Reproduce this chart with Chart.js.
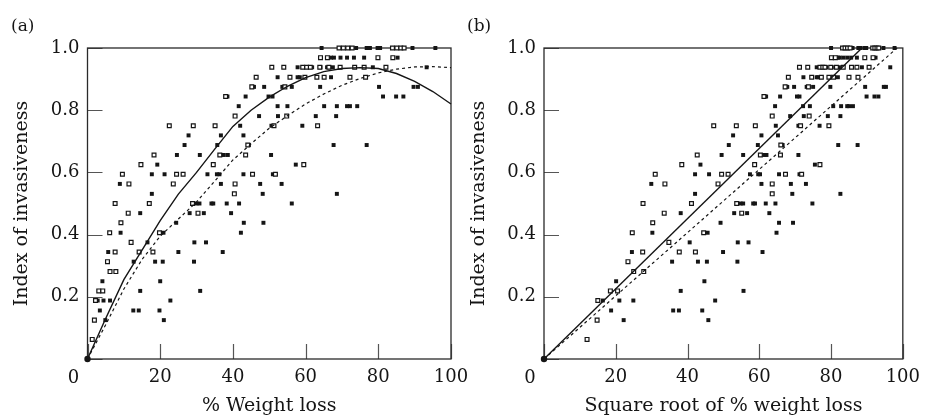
<!DOCTYPE html>
<html>
<head>
<meta charset="utf-8">
<script src="https://cdn.jsdelivr.net/npm/chart.js@4.4.1/dist/chart.umd.min.js"></script>
<style>
  body { margin: 0; background: #fff; }
  #wrap { position: relative; width: 928px; height: 417px; overflow: hidden; }
  .panel { position: absolute; top: 0; height: 417px; }
  .tag { position: absolute; top: 17px; font: 17px/17px "DejaVu Serif", serif; color: #151515; }
</style>
</head>
<body>
<div id="wrap">
  <div class="panel" style="left:0;width:480px"><canvas id="chartA"></canvas></div>
  <div class="panel" style="left:464px;width:464px"><canvas id="chartB"></canvas></div>
  <div class="tag" style="left:11px">(a)</div>
  <div class="tag" style="left:467px">(b)</div>
</div>
<script>
// index of invasiveness vs % weight loss, panel (a)
// open squares / filled squares, [x, y]
const weightLossOpen = [
  [69.2,1],[70.4,1],[71.6,1],[72.8,1],[83.9,1],[85.1,1],[86.2,1],[87.1,1],
  [64.1,0.969],[66.0,0.969],[79.9,0.969],[84.0,0.969],
  [50.7,0.938],[54.0,0.938],[59.2,0.938],[60.3,0.938],[61.3,0.938],[63.9,0.938],[66.4,0.938],[69.5,0.938],[73.5,0.938],[76.1,0.938],[82.1,0.938],
  [46.4,0.906],[55.7,0.906],[59.8,0.906],[63.1,0.906],[65.1,0.906],[72.2,0.906],[76.5,0.906],
  [45.2,0.875],[54.3,0.875],
  [38.0,0.844],
  [40.6,0.781],[54.8,0.781],
  [22.5,0.75],[29.1,0.75],[35.1,0.75],[51.3,0.75],[63.3,0.75],
  [44.1,0.688],
  [18.3,0.656],[36.4,0.656],[43.5,0.656],
  [14.7,0.625],[34.6,0.625],[59.5,0.625],
  [9.6,0.594],[24.5,0.594],[26.3,0.594],[45.4,0.594],[51.7,0.594],
  [11.4,0.563],[23.6,0.563],[40.6,0.563],
  [40.4,0.531],
  [7.6,0.5],[17.0,0.5],[28.9,0.5],
  [11.2,0.469],[30.4,0.469],
  [9.2,0.438],
  [6.1,0.406],[19.8,0.406],
  [12.0,0.375],
  [7.6,0.344],[14.2,0.344],[18.0,0.344],
  [5.5,0.313],
  [6.2,0.281],[7.8,0.281],
  [3.1,0.219],[4.2,0.219],
  [2.2,0.188],
  [1.9,0.125],
  [1.3,0.063]
];
const weightLossFilled = [
  [64.4,1],[73.9,1],[76.8,1],[77.7,1],[79.8,1],[80.5,1],[89.4,1],[95.7,1],
  [67.0,0.969],[67.8,0.969],[69.6,0.969],[71.4,0.969],[73.3,0.969],[76.1,0.969],[85.3,0.969],
  [57.8,0.938],[61.8,0.938],[64.1,0.938],[65.9,0.938],[67.5,0.938],[78.5,0.938],[93.3,0.938],
  [52.3,0.906],[57.8,0.906],[58.4,0.906],[67.0,0.906],
  [45.8,0.875],[48.6,0.875],[53.6,0.875],[56.2,0.875],[64.0,0.875],[80.2,0.875],[89.7,0.875],[90.9,0.875],
  [38.5,0.844],[43.5,0.844],[49.8,0.844],[50.9,0.844],[81.3,0.844],[84.9,0.844],[86.9,0.844],
  [41.6,0.813],[52.3,0.813],[55.0,0.813],[65.1,0.813],[68.6,0.813],[71.4,0.813],[72.2,0.813],[74.2,0.813],
  [47.2,0.781],[52.4,0.781],[62.8,0.781],[68.4,0.781],
  [42.0,0.75],[50.6,0.75],[59.1,0.75],
  [27.8,0.719],[36.7,0.719],[42.9,0.719],
  [26.7,0.688],[35.7,0.688],[44.4,0.688],[67.7,0.688],[76.8,0.688],
  [24.6,0.656],[30.9,0.656],[37.5,0.656],[38.6,0.656],[50.5,0.656],
  [19.2,0.625],[57.3,0.625],
  [17.7,0.594],[21.2,0.594],[33.0,0.594],[35.6,0.594],[36.3,0.594],[42.9,0.594],[51.0,0.594],
  [8.9,0.563],[36.7,0.563],[47.5,0.563],[53.4,0.563],
  [17.7,0.531],[48.2,0.531],[68.6,0.531],
  [30.0,0.5],[30.8,0.5],[34.1,0.5],[34.6,0.5],[38.3,0.5],[41.7,0.5],[56.2,0.5],
  [14.5,0.469],[28.1,0.469],[32.0,0.469],[39.5,0.469],
  [24.4,0.438],[43.0,0.438],[48.4,0.438],
  [9.1,0.406],[20.9,0.406],[42.2,0.406],
  [16.5,0.375],[29.4,0.375],[32.6,0.375],
  [5.7,0.344],[25.0,0.344],[37.2,0.344],
  [12.7,0.313],[18.6,0.313],[20.7,0.313],[29.3,0.313],
  [4.1,0.25],[20.0,0.25],
  [14.5,0.219],[31.0,0.219],
  [2.8,0.188],[4.4,0.188],[6.2,0.188],[22.8,0.188],
  [3.4,0.156],[12.6,0.156],[14.1,0.156],[19.8,0.156],
  [4.9,0.125],[21.0,0.125]
];
// fitted curves of panel (a), read every 5 %
const curveX = [0,5,10,15,20,25,30,35,40,45,50,55,60,65,70,75,80,85,90,95,100];
const curveSolid = [0,0.13,0.255,0.35,0.445,0.53,0.6,0.675,0.748,0.8,0.842,0.877,0.905,0.924,0.934,0.937,0.934,0.918,0.893,0.86,0.82];
const curveDashed = [0,0.11,0.225,0.32,0.395,0.45,0.505,0.572,0.64,0.692,0.742,0.782,0.82,0.852,0.88,0.902,0.92,0.932,0.939,0.94,0.937];

// panel (b): square root of % weight loss
const sqrtOpen = [
  [83.2,1],[83.9,1],[84.6,1],[85.3,1],[91.6,1],[92.2,1],[92.8,1],[93.3,1],
  [80.1,0.969],[81.2,0.969],[89.4,0.969],[91.7,0.969],
  [71.2,0.938],[73.5,0.938],[76.9,0.938],[77.7,0.938],[78.3,0.938],[79.9,0.938],[81.5,0.938],[83.4,0.938],[85.7,0.938],[87.2,0.938],[90.6,0.938],
  [68.1,0.906],[74.6,0.906],[77.3,0.906],[79.4,0.906],[80.7,0.906],[85.0,0.906],[87.5,0.906],
  [67.2,0.875],[73.7,0.875],
  [61.3,0.844],
  [63.6,0.781],[73.9,0.781],
  [47.3,0.75],[53.6,0.75],[58.9,0.75],[71.5,0.75],[79.4,0.75],
  [66.0,0.688],
  [42.7,0.656],[60.3,0.656],[65.9,0.656],
  [38.4,0.625],[58.7,0.625],[76.9,0.625],
  [31.0,0.594],[49.5,0.594],[51.3,0.594],[67.3,0.594],[71.8,0.594],
  [33.7,0.563],[48.5,0.563],[63.6,0.563],
  [63.6,0.531],
  [27.6,0.5],[41.1,0.5],[53.7,0.5],
  [33.5,0.469],[55.1,0.469],
  [30.3,0.438],
  [24.6,0.406],[44.5,0.406],
  [34.8,0.375],
  [27.5,0.344],[37.7,0.344],[42.2,0.344],
  [23.4,0.313],
  [25.0,0.281],[27.8,0.281],
  [18.5,0.219],[20.5,0.219],
  [15.0,0.188],
  [14.8,0.125],
  [12.0,0.063]
];
const sqrtFilled = [
  [80.0,1],[86.0,1],[87.6,1],[88.2,1],[89.3,1],[89.8,1],[94.6,1],[97.7,1],
  [81.9,0.969],[82.4,0.969],[83.4,0.969],[84.5,0.969],[85.6,0.969],[87.2,0.969],[92.4,0.969],
  [76.0,0.938],[78.6,0.938],[80.1,0.938],[81.2,0.938],[82.2,0.938],[88.6,0.938],[96.5,0.938],
  [72.3,0.906],[76.0,0.906],[76.4,0.906],[81.9,0.906],
  [67.8,0.875],[69.7,0.875],[73.2,0.875],[75.0,0.875],[79.8,0.875],[89.5,0.875],[94.7,0.875],[95.3,0.875],
  [61.9,0.844],[65.8,0.844],[70.5,0.844],[71.2,0.844],[89.9,0.844],[92.1,0.844],[93.2,0.844],
  [64.4,0.813],[72.2,0.813],[74.1,0.813],[80.6,0.813],[82.8,0.813],[84.5,0.813],[85.0,0.813],[86.1,0.813],
  [68.6,0.781],[72.4,0.781],[79.1,0.781],[82.6,0.781],
  [64.6,0.75],[70.9,0.75],[76.8,0.75],
  [52.7,0.719],[60.6,0.719],[65.2,0.719],
  [51.5,0.688],[59.6,0.688],[66.5,0.688],[82.0,0.688],[87.4,0.688],
  [49.5,0.656],[55.5,0.656],[61.2,0.656],[62.0,0.656],[70.9,0.656],
  [43.6,0.625],[75.5,0.625],
  [42.1,0.594],[46.0,0.594],[57.4,0.594],[59.7,0.594],[60.2,0.594],[65.5,0.594],[71.2,0.594],
  [29.9,0.563],[60.6,0.563],[68.8,0.563],[73.0,0.563],
  [42.1,0.531],[69.2,0.531],[82.6,0.531],
  [54.8,0.5],[55.5,0.5],[58.3,0.5],[58.8,0.5],[61.8,0.5],[64.5,0.5],[74.8,0.5],
  [38.1,0.469],[53.0,0.469],[56.6,0.469],[62.8,0.469],
  [49.2,0.438],[65.5,0.438],[69.4,0.438],
  [30.2,0.406],[45.6,0.406],[64.8,0.406],
  [40.6,0.375],[54.0,0.375],[57.0,0.375],
  [24.5,0.344],[49.9,0.344],[60.9,0.344],
  [35.7,0.313],[42.9,0.313],[45.4,0.313],[53.9,0.313],
  [20.1,0.25],[44.7,0.25],
  [38.1,0.219],[55.6,0.219],
  [16.4,0.188],[21.0,0.188],[24.9,0.188],[47.7,0.188],
  [18.7,0.156],[36.0,0.156],[37.6,0.156],[44.1,0.156],
  [22.2,0.125],[45.8,0.125]
];
// straight fits of panel (b), end points
const lineX = [0, 88.6];
const lineY = [0, 1];
const dashX = [0, 98.4];
const dashY = [0, 1];
const origin = [[0, 0]];

const xTicks = [0, 20, 40, 60, 80, 100];
const yTicks = [0, 0.2, 0.4, 0.6, 0.8, 1.0];

const ink = '#151515';
const serif = "'DejaVu Serif', serif";

const toPts = pairs => pairs.map(p => ({x: p[0], y: p[1]}));
const zipPts = (xs, ys) => xs.map((x, i) => ({x: x, y: ys[i]}));

// inward ticks, box frame and the shared "0" at the origin
const framePlugin = {
  id: 'frame',
  beforeDatasetsDraw(chart) {
    const {ctx, chartArea: a, scales} = chart;
    const x = scales.x, y = scales.y;
    ctx.save();
    ctx.strokeStyle = '#555';
    ctx.lineWidth = 1.2;
    ctx.beginPath();
    xTicks.forEach(v => {
      const px = Math.round(x.getPixelForValue(v)) + 0.5;
      ctx.moveTo(px, a.bottom);
      ctx.lineTo(px, a.bottom - 15);
    });
    yTicks.forEach(v => {
      const py = Math.round(y.getPixelForValue(v)) + 0.5;
      ctx.moveTo(a.left, py);
      ctx.lineTo(a.left + 15, py);
    });
    ctx.stroke();
    ctx.strokeStyle = '#2a2a2a';
    ctx.lineWidth = 1.3;
    ctx.strokeRect(a.left, a.top, a.right - a.left, a.bottom - a.top);
    ctx.fillStyle = ink;
    ctx.font = '18px ' + serif;
    ctx.textAlign = 'center';
    ctx.textBaseline = 'middle';
    ctx.fillText('0', x.getPixelForValue(0) - 14, a.bottom + 19);
    ctx.restore();
  }
};

function makeChart(id, open, filled, solid, dashed, cfg) {
  return new Chart(document.getElementById(id), {
    type: 'scatter',
    data: {
      datasets: [
        {data: solid, showLine: true, borderColor: ink, borderWidth: 1.4, pointRadius: 0, clip: false, order: 1},
        {data: dashed, showLine: true, borderColor: ink, borderWidth: 1.2, borderDash: [3, 3], pointRadius: 0, clip: false, order: 1},
        {data: toPts(open), pointStyle: 'rect', pointRadius: 2.7, borderWidth: 1.2, borderColor: ink, backgroundColor: '#fff', clip: false, order: 2},
        {data: toPts(filled), pointStyle: 'rect', pointRadius: 2.8, borderWidth: 0, backgroundColor: ink, clip: false, order: 2},
        {data: toPts(origin), pointStyle: 'circle', pointRadius: 3.2, borderWidth: 0, backgroundColor: ink, clip: false, order: 0}
      ]
    },
    options: {
      responsive: true,
      maintainAspectRatio: false,
      animation: false,
      events: [],
      layout: {padding: {top: 48, right: cfg.padRight, bottom: 0, left: 0}},
      plugins: {legend: {display: false}, tooltip: {enabled: false}},
      scales: {
        x: {
          type: 'linear', min: 0, max: 100,
          afterBuildTicks: s => { s.ticks = xTicks.map(v => ({value: v})); },
          ticks: {
            padding: 8, color: ink, maxRotation: 0, autoSkip: false,
            font: {family: serif, size: 18},
            callback: v => v === 0 ? '' : String(v)
          },
          grid: {display: false, drawTicks: false},
          border: {display: false},
          title: {display: true, text: cfg.xTitle, color: ink, font: {family: serif, size: 19}, padding: {top: 0, bottom: 0}},
          afterFit: s => { s.height = 58; }
        },
        y: {
          type: 'linear', min: 0, max: 1,
          afterBuildTicks: s => { s.ticks = yTicks.map(v => ({value: v})); },
          ticks: {
            padding: 8, color: ink,
            font: {family: serif, size: 18},
            callback: v => v === 0 ? '' : v.toFixed(1)
          },
          grid: {display: false, drawTicks: false},
          border: {display: false},
          title: {display: true, text: 'Index of invasiveness', color: ink, font: {family: serif, size: 19}, padding: {top: cfg.yTitlePad, bottom: 0}},
          afterFit: s => { s.width = cfg.yWidth; }
        }
      }
    },
    plugins: [framePlugin]
  });
}

makeChart('chartA', weightLossOpen, weightLossFilled,
  zipPts(curveX, curveSolid), zipPts(curveX, curveDashed),
  {xTitle: '% Weight loss', padRight: 29, yWidth: 87.5, yTitlePad: 10.3});

makeChart('chartB', sqrtOpen, sqrtFilled,
  zipPts(lineX, lineY), zipPts(dashX, dashY),
  {xTitle: 'Square root of % weight loss', padRight: 20, yWidth: 80, yTitlePad: 3.7});
</script>
</body>
</html>
